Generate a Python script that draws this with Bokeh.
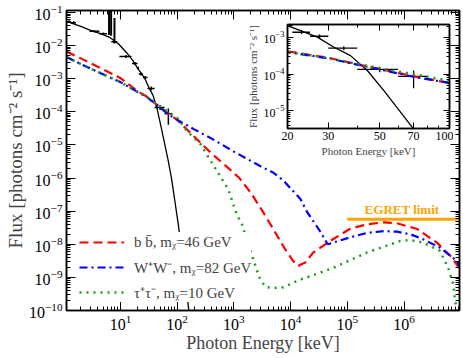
from bokeh.plotting import figure
from bokeh.models import (LogAxis, FixedTicker, Legend, LegendItem, ColumnDataSource, Label,
                          NumeralTickFormatter, CustomJSTickFormatter)
from bokeh.layouts import column
from bokeh.embed import file_html
from bokeh.resources import INLINE

FONT = "Liberation Serif"

# ---------------- data (keV, photons cm^-2 s^-1) ----------------
black_E = [1.12, 2.0, 2.98, 4.47, 6.6, 9.3, 13.2, 16.6, 20, 26.9, 31.6, 37.4, 44.2, 52, 69,
           79.4, 91.2, 104.7, 120, 138, 158, 170]
black_F = [5.4e-2, 3.8e-2, 2.9e-2, 2.3e-2, 1.74e-2, 1.12e-2, 5.8e-3, 3.5e-3, 2.1e-3, 1.02e-3,
           5.5e-4, 3.2e-4, 1.26e-4, 3.6e-5, 3.6e-6, 1.0e-6, 2.0e-7, 4.0e-8, 6.3e-9, 1.0e-9,
           1.26e-10, 5e-11]

red_E = [1.12, 3, 10, 20, 30, 40, 50, 70, 100, 200, 400, 800, 1250, 2000, 3200, 5000, 8000,
         1.1e4, 1.35e4, 1.8e4, 2.5e4, 5e4, 1.1e5, 2.2e5, 4.4e5, 7.5e5, 1.7e6, 3.8e6, 7e6, 9.6e6]
red_F = [6.6e-3, 2.95e-3, 1.05e-3, 4.2e-4, 2.8e-4, 1.86e-4, 1.38e-4, 8.7e-5, 5.75e-5, 1.78e-5,
         5.6e-6, 2.0e-6, 1.0e-6, 3.55e-7, 1.0e-7, 2.8e-8, 7.1e-9, 3.2e-9, 2.2e-9, 2.8e-9,
         5.6e-9, 1.26e-8, 2.9e-8, 4.0e-8, 4.6e-8, 4.3e-8, 2.9e-8, 1.12e-8, 4.0e-9, 1.8e-9]

blue_E = [1.12, 3, 10, 20, 30, 40, 50, 70, 100, 200, 400, 1000, 2900, 4900, 7500, 1.1e4,
          1.5e4, 1.95e4, 3.3e4, 4.5e4, 5.6e4, 1.1e5, 2.2e5, 4.4e5, 7.5e5, 1.3e6, 2.2e6,
          4.3e6, 6.5e6, 8.5e6, 9.8e6]
blue_F = [4.5e-3, 2.0e-3, 7.9e-4, 4.0e-4, 2.7e-4, 1.82e-4, 1.35e-4, 8.5e-5, 5.75e-5, 2.95e-5,
          1.58e-5, 6.3e-6, 2.3e-6, 1.48e-6, 8.3e-7, 4.1e-7, 2.3e-7, 9.5e-8, 2.5e-8, 1.0e-8,
          1.12e-8, 1.6e-8, 2.2e-8, 2.5e-8, 2.4e-8, 2.0e-8, 1.4e-8, 7.9e-9, 4.5e-9, 3.2e-9,
          1.95e-9]

green_E = [1.12, 3, 10, 20, 30, 40, 50, 70, 100, 150, 257, 500, 800, 1120, 1380, 1780, 2090,
           2820, 3550, 5000, 7400, 1.5e4, 1.95e4, 5.7e4, 2.2e5, 8.5e5, 1.26e6, 2.2e6, 4.3e6,
           6.0e6, 7.4e6, 7.9e6, 8.5e6, 8.9e6]
green_F = [4.5e-3, 2.0e-3, 7.9e-4, 4.0e-4, 2.75e-4, 1.9e-4, 1.45e-4, 1.0e-4, 6.6e-5, 2.6e-5,
           1.07e-5, 1.66e-6, 4.5e-7, 8.1e-8, 4.1e-8, 1.0e-8, 4.5e-9, 1.0e-9, 5.2e-10, 4.8e-10,
           5.0e-10, 8.7e-10, 1.0e-9, 1.95e-9, 5.6e-9, 1.26e-8, 1.35e-8, 1.12e-8, 6.3e-9,
           1.95e-9, 6.2e-10, 1.95e-10, 1.2e-10, 5e-11]

# measured points: energy bin edges, centre, flux and flux error range
pt_lo = [1.13, 1.35, 2.85, 4.25, 6.9, 9.6, 16, 20, 21, 25, 30, 40, 60]
pt_hi = [1.35, 1.65, 4.25, 5.8, 8.8, 15.6, 20, 21, 25, 30, 40, 60, 80]
pt_c = [1.24, 1.5, 3.5, 5.0, 7.8, 12.5, 18, 20.5, 23, 27.5, 35, 50, 70]
pt_F = [0.053, 0.049, 0.027, 0.023, 0.0132, 4.7e-3, 2.9e-3, 2.1e-3, 1.39e-3, 1.08e-3,
        5.1e-4, 1.35e-4, 8.7e-5]
pt_Flo = [0.048, 0.045, 0.025, 0.021, 0.0122, 4.2e-3, 2.6e-3, 1.9e-3, 1.25e-3, 9.6e-4,
          4.5e-4, 1.13e-4, 4.1e-5]
pt_Fhi = [0.058, 0.054, 0.029, 0.025, 0.0143, 5.2e-3, 3.2e-3, 2.3e-3, 1.55e-3, 1.2e-3,
          5.8e-4, 1.6e-4, 1.26e-4]

# line-region points with large flux errors
spike_E = [6.3, 6.85, 7.85]
spike_lo = [0.021, 0.020, 0.0115]
spike_hi = [0.2, 0.2, 0.068]

egret_E = [1e5, 1e7]
egret_F = [5.7e-8, 5.7e-8]

labels = ["b b\u0304, m\u1d6a=46 GeV", "W\u207aW\u207b, m\u1d6a=82 GeV",
          "\u03c4\u207a\u03c4\u207b, m\u1d6a=10 GeV"]

RED, BLUE, GREEN, ORANGE = "#ff0000", "#0000ff", "#1a9c1a", "#ffa500"


def minor_list(d0, d1):
    return [m * 10.0 ** d for d in range(d0, d1) for m in range(2, 10)]


def style_axis(ax, tick_in, minor_in, lab_size, lw=1.5):
    ax.major_tick_in = tick_in
    ax.major_tick_out = 0
    ax.minor_tick_in = minor_in
    ax.minor_tick_out = 0
    ax.axis_line_width = lw
    ax.major_tick_line_width = 1
    ax.minor_tick_line_width = 1
    ax.major_label_text_font = FONT
    ax.major_label_text_font_size = lab_size
    ax.axis_label_text_font = FONT
    ax.axis_label_text_font_style = "normal"
    ax.major_label_text_color = "black"


def mirror_axis(ticker, tick_in, minor_in):
    ax = LogAxis(ticker=ticker, formatter=CustomJSTickFormatter(code="return ''"))
    style_axis(ax, tick_in, minor_in, "1px")
    ax.major_label_standoff = 0
    return ax


# ---------------- main figure ----------------
p = figure(width=463, height=358, x_axis_type="log", y_axis_type="log",
           x_range=(1.12, 9.5e6), y_range=(1e-10, 0.115),
           output_backend="svg", toolbar_location=None,
           min_border_left=66, min_border_right=3, min_border_top=10, min_border_bottom=48)
p.grid.visible = False
p.outline_line_color = "black"
p.outline_line_width = 1.5
p.background_fill_color = "white"

xt = FixedTicker(ticks=[1e1, 1e2, 1e3, 1e4, 1e5, 1e6], minor_ticks=minor_list(0, 7))
yt = FixedTicker(ticks=[10.0 ** d for d in range(-10, 0)], minor_ticks=minor_list(-10, 0))
p.xaxis.ticker = xt
p.yaxis.ticker = yt
for ax in (p.xaxis[0], p.yaxis[0]):
    style_axis(ax, 9, 4, "16px")
    ax.axis_label_text_font_size = "18px"
p.yaxis.axis_label_text_font_size = "19px"
p.xaxis.axis_label = "Photon Energy [keV]"
p.yaxis.axis_label = "Flux [photons cm\u207b\u00b2 s\u207b\u00b9]"
p.xaxis.major_label_standoff = 4
p.yaxis.major_label_standoff = 4
p.xaxis.axis_label_standoff = 0
p.yaxis.axis_label_standoff = 0

p.add_layout(mirror_axis(xt, 9, 4), "above")
p.add_layout(mirror_axis(yt, 9, 4), "right")

src_pts = ColumnDataSource(dict(lo=pt_lo, hi=pt_hi, c=pt_c, f=pt_F, flo=pt_Flo, fhi=pt_Fhi))

p.line(black_E, black_F, line_color="black", line_width=1.3)
p.segment(x0="lo", x1="hi", y0="f", y1="f", source=src_pts, line_color="black", line_width=1.5)
p.segment(x0="c", x1="c", y0="flo", y1="fhi", source=src_pts, line_color="black", line_width=1.5)
p.segment(x0=spike_E, x1=spike_E, y0=spike_lo, y1=spike_hi, line_color="black", line_width=2)

r_red = p.line(red_E, red_F, line_color=RED, line_width=2.2, line_dash="9 5")
r_blue = p.line(blue_E, blue_F, line_color=BLUE, line_width=2.2, line_dash="8 4 2 4")
r_green = p.line(green_E, green_F, line_color=GREEN, line_width=2.5, line_dash="2 5")

p.line(egret_E, egret_F, line_color=ORANGE, line_width=3)
p.add_layout(Label(x=9.2e5, y=egret_F[0], text="EGRET limit", text_align="center",
                   text_baseline="bottom", y_offset=2, text_color=ORANGE,
                   text_font=FONT, text_font_style="bold", text_font_size="13px"))

legend = Legend(items=[LegendItem(label=labels[0], renderers=[r_red]),
                       LegendItem(label=labels[1], renderers=[r_blue]),
                       LegendItem(label=labels[2], renderers=[r_green])],
                location=(13, 8), glyph_width=45, glyph_height=20, label_height=20,
                label_standoff=10, spacing=5, padding=6, margin=0,
                label_text_font=FONT, label_text_font_size="15px",
                border_line_color=None, background_fill_color="white",
                background_fill_alpha=1.0)
p.add_layout(legend)

# ---------------- inset ----------------
ins = figure(frame_width=162, frame_height=104, x_axis_type="log", y_axis_type="log",
             x_range=(20, 100), y_range=(3.3e-6, 2.26e-3),
             output_backend="svg", toolbar_location=None,
             min_border_left=66, min_border_right=4, min_border_top=4, min_border_bottom=34,
             styles={"position": "absolute", "left": "221px", "top": "20px"})
ins.grid.visible = False
ins.outline_line_color = "black"
ins.outline_line_width = 1.5
ins.border_fill_alpha = 0
ins.background_fill_color = "white"

ixt = FixedTicker(ticks=[20, 30, 50, 70, 100], minor_ticks=[40, 60, 80, 90])
iyt = FixedTicker(ticks=[1e-5, 1e-4, 1e-3], minor_ticks=minor_list(-6, -2))
ins.xaxis.ticker = ixt
ins.yaxis.ticker = iyt
ins.xaxis.formatter = NumeralTickFormatter(format="0")
for ax in (ins.xaxis[0], ins.yaxis[0]):
    style_axis(ax, 6, 3, "12px")
    ax.axis_label_text_font_size = "11px"
    ax.major_label_standoff = 3
    ax.axis_label_standoff = 2
ins.xaxis.axis_label = "Photon Energy [keV]"
ins.yaxis.axis_label = "Flux [photons cm\u207b\u00b2 s\u207b\u00b9]"
ins.add_layout(mirror_axis(ixt, 6, 3), "above")
ins.add_layout(mirror_axis(iyt, 6, 3), "right")

ins.line(black_E, black_F, line_color="black", line_width=1.3)
ins.segment(x0="lo", x1="hi", y0="f", y1="f", source=src_pts, line_color="black", line_width=1.3)
ins.segment(x0="c", x1="c", y0="flo", y1="fhi", source=src_pts, line_color="black", line_width=1.3)
ins.line(red_E, red_F, line_color=RED, line_width=2.2, line_dash="9 5")
ins.line(blue_E, blue_F, line_color=BLUE, line_width=2.2, line_dash="8 4 2 4")
ins.line(green_E, green_F, line_color=GREEN, line_width=2.5, line_dash="2 5")

layout = column(p, ins)
open("out.html", "w").write(file_html(layout, INLINE))
